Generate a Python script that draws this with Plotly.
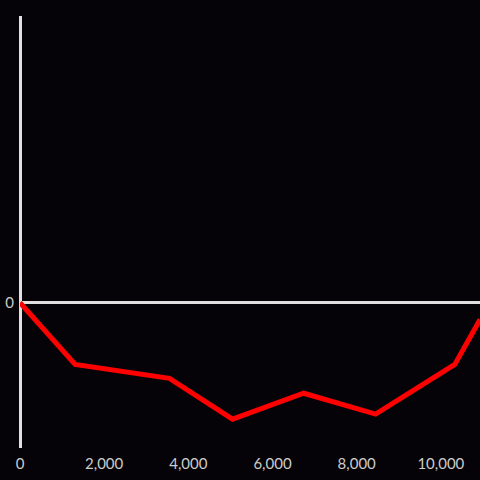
import plotly.graph_objects as go

x_values = [0, 1310, 3550, 5050, 6740, 8450, 10330, 10930]
y_values = [0, -62, -76, -117, -91, -112, -62, -17]
x_ticks = [0, 2000, 4000, 6000, 8000, 10000]
x_tick_labels = ["0", "2,000", "4,000", "6,000", "8,000", "10,000"]

fig = go.Figure()
fig.add_trace(go.Scatter(x=x_values, y=y_values, mode="lines",
                         line=dict(color="#ff0000", width=5), cliponaxis=True))

fig.update_layout(
    width=480, height=480,
    paper_bgcolor="#050307", plot_bgcolor="#050307",
    margin=dict(l=20, r=0, t=16, b=32),
    showlegend=False,
    font=dict(family="Lato, sans-serif", size=15, color="#cccccc"),
    xaxis=dict(range=[0, 10930], tickvals=x_ticks, ticktext=x_tick_labels,
               showgrid=False, zeroline=True, zerolinecolor="#e0e0e0", zerolinewidth=3,
               showline=False, ticks="outside", ticklen=2, tickcolor="rgba(0,0,0,0)",
               tickfont=dict(size=15, color="#cccccc")),
    yaxis=dict(range=[-146, 288], tickvals=[0], ticktext=["0"],
               showgrid=False, zeroline=True, zerolinecolor="#e0e0e0", zerolinewidth=3,
               showline=False, ticks="outside", ticklen=2, tickcolor="rgba(0,0,0,0)",
               tickfont=dict(size=15, color="#cccccc")),
)

fig.write_html("out.html", config={"displayModeBar": False},
               post_script="document.body.style.margin='0';document.body.style.background='#050307';")
